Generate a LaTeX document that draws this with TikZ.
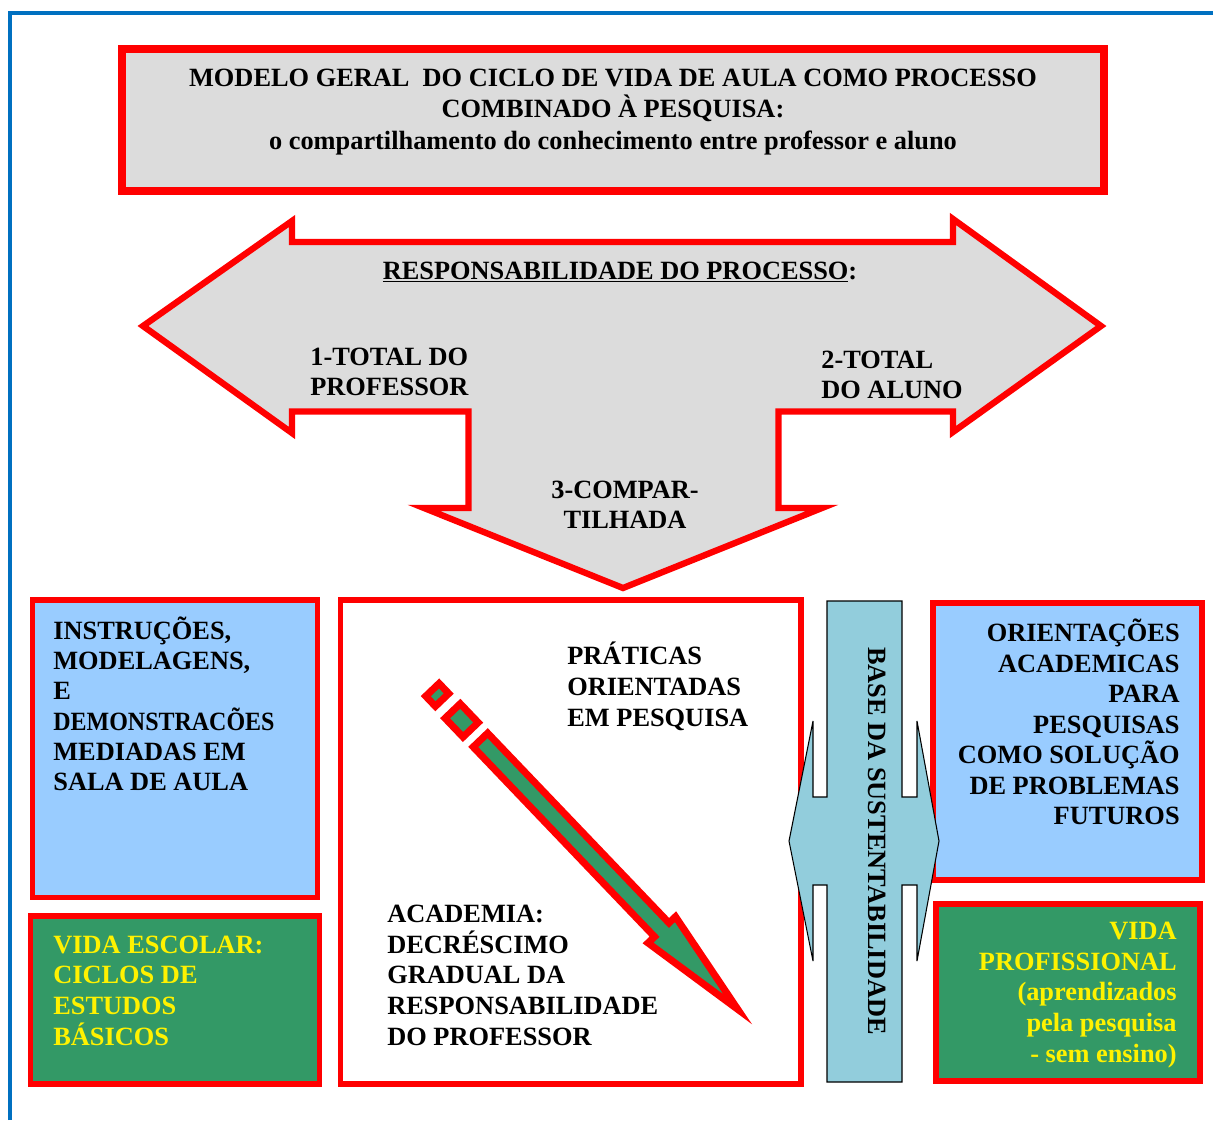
\documentclass[tikz,border=0pt]{standalone}
\usepackage{fontspec}
\setmainfont{Liberation Serif}
\usepackage{xcolor}
\usepackage{tikz}
\usetikzlibrary{fit}

\definecolor{boxred}{RGB}{255,0,0}
\definecolor{panelgray}{RGB}{220,220,220}
\definecolor{skyblue}{RGB}{153,204,255}
\definecolor{leafgreen}{RGB}{51,153,102}
\definecolor{pillarblue}{RGB}{146,205,220}
\definecolor{frameblue}{RGB}{0,112,192}

\begin{document}
\begin{tikzpicture}[x=0.02cm,y=-0.02cm,
    redbox/.style={draw=boxred,line width=3.1pt,inner sep=0pt},
    bigarrow/.style={draw=boxred,fill=panelgray,line width=3.6pt,line join=miter},
    pencil/.style={draw=boxred,fill=leafgreen,line width=4pt,line join=miter},
    pillar/.style={draw=black,fill=pillarblue,line width=0.6pt},
    words/.style={inner sep=0pt,font=\bfseries\fontsize{15}{17.4}\selectfont,
                  execute at begin node=\strut}]

  \useasboundingbox (0,0) rectangle (1213,1120);
  \draw[frameblue,line width=2.3pt] (10,1120) -- (10,13) -- (1213,13);

  % title
  \node[redbox,fill=panelgray,line width=4.5pt,fit={(122,49) (1104,191)}] (title) {};
  \node[words,font=\bfseries\fontsize{15}{17.9}\selectfont,align=center,anchor=north] (titletext) at (613,68.5)
    {MODELO GERAL\ \ DO CICLO DE VIDA DE AULA COMO PROCESSO\\COMBINADO À PESQUISA:\\o compartilhamento do conhecimento entre professor e aluno};

  % three-way arrow
  \draw[bigarrow] (143,326) -- (292,221) -- (292,242) -- (953,242) -- (953,219)
    -- (1101,326) -- (953,432) -- (953,411.5) -- (778.5,411.5) -- (778.5,508)
    -- (822,508) -- (623,588) -- (424,508) -- (468.5,508) -- (468.5,411.5)
    -- (292,411.5) -- (292,433) -- cycle;
  \node[words,anchor=base] (resp) at (620,279) {\underline{RESPONSABILIDADE DO PROCESSO}:};
  \node[words,align=left,anchor=north west] (prof) at (310,347.5) {1-TOTAL DO\\PROFESSOR};
  \node[words,align=left,anchor=north west] (aluno) at (821,350.5) {2-TOTAL\\DO ALUNO};
  \node[words,align=center,anchor=north] (shared) at (625,480.5) {3-COMPAR-\\TILHADA};

  % boxes
  \node[redbox,fill=skyblue,fit={(32.5,600) (317.5,897.5)}] (instr) {};
  \node[redbox,fill=leafgreen,fit={(30.5,916) (319.5,1084)}] (escolar) {};
  \node[redbox,fill=white,fit={(340.5,600) (801,1084)}] (academia) {};
  \node[redbox,fill=skyblue,fit={(933,603) (1202,880)}] (orient) {};
  \node[redbox,fill=leafgreen,fit={(936,904) (1200,1081)}] (profissional) {};

  \node[words,font=\bfseries\fontsize{15}{17.2}\selectfont,align=left,anchor=north west] (instrtext) at (53,616.5)
    {INSTRUÇÕES,\\MODELAGENS,\\E\\\scalebox{0.91}[1]{DEMONSTRACÕES}\\MEDIADAS EM\\SALA DE AULA};
  \node[words,text=yellow,align=left,anchor=north west] (escolartext) at (53,935.5)
    {VIDA ESCOLAR:\\CICLOS DE\\ESTUDOS\\BÁSICOS};
  \node[words,align=left,anchor=north west] (praticas) at (567,642)
    {PRÁTICAS\\ORIENTADAS\\EM PESQUISA};
  \node[words,align=left,anchor=north west] (decrescimo) at (387,905)
    {ACADEMIA:\\DECRÉSCIMO\\GRADUAL DA\\RESPONSABILIDADE\\DO PROFESSOR};
  \node[words,align=right,anchor=north east] (orienttext) at (1180,618.5)
    {ORIENTAÇÕES\\ACADEMICAS\\PARA\\PESQUISAS\\COMO SOLUÇÃO\\DE PROBLEMAS\\FUTUROS};
  \node[words,text=yellow,align=right,anchor=north east] (proftext) at (1177,922)
    {VIDA\\PROFISSIONAL\\(aprendizados\\pela pesquisa\\- sem ensino)};

  % pencil arrow
  \begin{scope}[shift={(478,737.5)},rotate=-46.3]
    \draw[pencil] (-66,-9.25) rectangle (-52,9.25);
    \draw[pencil] (-36.7,-10.5) rectangle (-10.7,10.5);
    \draw[pencil] (3.5,-10) -- (266,-10) -- (266,-19) -- (376,0) -- (266,19)
      -- (266,10) -- (3.5,10) -- cycle;
  \end{scope}

  % pillar
  \draw[pillar] (827,601) -- (902,601) -- (902,797) -- (917,797) -- (917,721)
    -- (939,841) -- (917,961) -- (917,885) -- (902,885) -- (902,1082)
    -- (827,1082) -- (827,885) -- (813,885) -- (813,961) -- (789,841)
    -- (813,721) -- (813,797) -- (827,797) -- cycle;
  \node[words,rotate=-90] (base) at (875,841) {BASE DA SUSTENTABILIDADE};
\end{tikzpicture}
\end{document}
